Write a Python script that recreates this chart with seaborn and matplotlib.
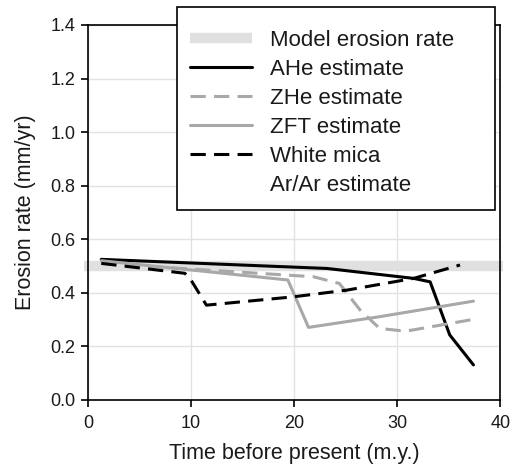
import matplotlib
matplotlib.use("Agg")
import matplotlib.pyplot as plt
from matplotlib.patches import Rectangle
from matplotlib.lines import Line2D
import seaborn as sns
import pandas as pd

sns.set_theme(style="white")
plt.rcParams['font.family'] = ['Liberation Sans', 'DejaVu Sans']

model_x = [-0.4, 40.3]
model_y = [0.5, 0.5]

ahe_x = [1.3, 23.2, 31.6, 33.2, 35.1, 37.4]
ahe_y = [0.525, 0.491, 0.454, 0.441, 0.243, 0.131]

zhe_x = [1.3, 21.9, 24.4, 26.4, 28.3, 30.3, 31.3, 37.4]
zhe_y = [0.51, 0.46, 0.435, 0.336, 0.267, 0.259, 0.26, 0.301]

zft_x = [1.3, 19.4, 21.4, 28.3, 37.4]
zft_y = [0.52, 0.448, 0.271, 0.311, 0.369]

mica_x = [1.3, 9.4, 9.9, 11.5, 19.9, 25.1, 31.6, 36.1]
mica_y = [0.51, 0.473, 0.454, 0.354, 0.385, 0.41, 0.454, 0.504]

labels = ["Model erosion rate", "AHe estimate", "ZHe estimate",
          "ZFT estimate", "White mica"]
extra_label = "Ar/Ar estimate"
x_ticks = [0, 10, 20, 30, 40]
y_ticks = [0.0, 0.2, 0.4, 0.6, 0.8, 1.0, 1.2, 1.4]

W, H = 520, 467
fig = plt.figure(figsize=(W / 100, H / 100), dpi=100)
ax = fig.add_axes([0.169, 0.1435, 0.793, 0.803])

styles = [
    (model_x, model_y, dict(color="#e0e0e0", lw=7.5, solid_capstyle="butt", clip_on=False)),
    (ahe_x, ahe_y, dict(color="black", lw=2.2)),
    (zhe_x, zhe_y, dict(color="#a8a8a8", lw=2.2, dashes=(5, 2.7))),
    (zft_x, zft_y, dict(color="#a8a8a8", lw=2.2)),
    (mica_x, mica_y, dict(color="black", lw=2.2, dashes=(5, 2.7))),
]
for (xs, ys, kw), lab in zip(styles, labels):
    df = pd.DataFrame({"x": xs, "y": ys})
    sns.lineplot(data=df, x="x", y="y", ax=ax, sort=False, estimator=None,
                 label=lab, **kw)

ax.set_xlim(0, 40)
ax.set_ylim(0, 1.4)
ax.set_xticks(x_ticks)
ax.set_yticks(y_ticks)
ax.set_yticklabels([f"{v:.1f}" for v in y_ticks])
ax.grid(True, color="#e2e2e2", lw=1)
ax.set_axisbelow(True)
for s in ax.spines.values():
    s.set_color("black")
    s.set_linewidth(1.2)
ax.tick_params(axis="both", direction="out", length=5, width=1.2,
               color="black", labelsize=13, labelcolor="#1a1a1a", pad=4,
               left=True, bottom=True)
ax.tick_params(axis="x", pad=6)
ax.set_xlabel("Time before present (m.y.)", fontsize=15.5, color="#1a1a1a", labelpad=8)
ax.set_ylabel("Erosion rate (mm/yr)", fontsize=15.5, color="#1a1a1a", labelpad=10)

# legend box frame (figure pixel coordinates)
box = Rectangle((177 / W, 1 - 210 / H), (495 - 177) / W, (210 - 7) / H,
                transform=fig.transFigure, facecolor="white", edgecolor="black",
                lw=1.2, zorder=9)
fig.add_artist(box)

handles, labs = ax.get_legend_handles_labels()
handles.append(Line2D([], [], color="none", lw=0))
labs.append(extra_label)
leg = ax.legend(handles, labs, loc="upper left",
                bbox_to_anchor=(190 / W, 1 - 30 / H),
                bbox_transform=fig.transFigure,
                frameon=False, fontsize=16,
                handlelength=2.8, handletextpad=0.8, labelspacing=0.36,
                borderaxespad=0, borderpad=0)
for t in leg.get_texts():
    t.set_color("#1a1a1a")
leg.remove()
fig.add_artist(leg)
leg.set_zorder(10)

fig.savefig("out.png", dpi=100)
